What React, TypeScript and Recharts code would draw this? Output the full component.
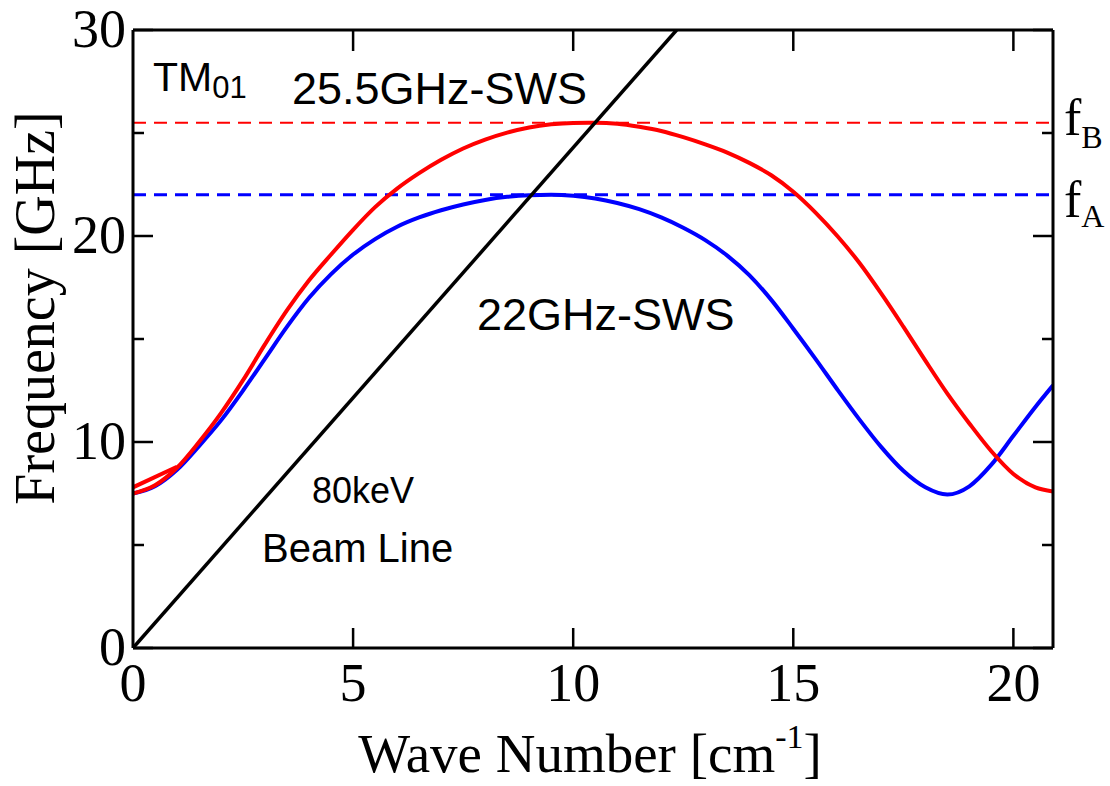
import { ComposedChart, Line, ReferenceLine, XAxis, YAxis } from 'recharts';

const waveNumbers = [
  0, 0.5, 1, 1.5, 2, 2.5, 3, 3.5, 4, 4.5, 5, 5.5, 6, 6.5, 7, 7.5, 8, 8.5, 9, 9.5, 10, 10.5,
  11, 11.5, 12, 12.5, 13, 13.5, 14, 14.5, 15, 15.5, 16, 16.5, 17, 17.5, 18, 18.5, 19, 19.5,
  20, 20.5, 20.9,
];
const sws22Freq = [
  7.5, 7.85, 8.65, 9.8, 11.05, 12.5, 14.05, 15.6, 17.0, 18.15, 19.1, 19.85, 20.45, 20.9, 21.25,
  21.53, 21.75, 21.9, 21.98, 22.0, 21.95, 21.82, 21.6, 21.3, 20.9, 20.4, 19.8, 19.05, 18.1,
  16.9, 15.5, 14.05, 12.55, 11.1, 9.75, 8.6, 7.8, 7.45, 7.85, 8.9, 10.3, 11.7, 12.75,
];
const sws255Freq = [
  7.5, 7.9, 8.75, 10.0, 11.4, 13.0, 14.75, 16.4, 17.85, 19.1, 20.3, 21.4, 22.3, 23.05, 23.7,
  24.25, 24.68, 25.02, 25.27, 25.42, 25.49, 25.5, 25.45, 25.3, 25.1, 24.8, 24.45, 24.05, 23.55,
  22.95, 22.15, 21.15, 20.0, 18.7, 17.2, 15.6, 13.95, 12.35, 10.9, 9.55, 8.45, 7.8, 7.6,
];
// short straight piece of the red curve near k = 0..1
const sws255KinkK = [0, 1];
const sws255KinkFreq = [7.8, 8.8];
// 80 keV beam line
const beamK = [0, 12.35];
const beamFreq = [0, 30];

const fA = 22;
const fB = 25.5;

const xTicks = [0, 5, 10, 15, 20];
const yTicks = [0, 5, 10, 15, 20, 25, 30];

const blueData = waveNumbers.map((k, i) => ({ k, f: sws22Freq[i] }));
const redData = waveNumbers.map((k, i) => ({ k, f: sws255Freq[i] }));
const kinkData = sws255KinkK.map((k, i) => ({ k, f: sws255KinkFreq[i] }));
const beamData = beamK.map((k, i) => ({ k, f: beamFreq[i] }));

const SERIF = '"Liberation Serif", "Times New Roman", serif';
const SANS = '"Liberation Sans", Arial, sans-serif';

function LeftTick({ x, y, payload }: any) {
  const major = payload.value % 10 === 0;
  return (
    <g>
      <line x1={x} y1={y} x2={x + (major ? 20 : 11)} y2={y} stroke="#000" strokeWidth={2.5} />
      {major && (
        <text x={x - 7} y={y + 17} textAnchor="end" fontFamily={SERIF} fontSize={54} fill="#000">
          {payload.value}
        </text>
      )}
    </g>
  );
}

function RightTick({ x, y, payload }: any) {
  const major = payload.value % 10 === 0;
  return <line x1={x} y1={y} x2={x - (major ? 20 : 11)} y2={y} stroke="#000" strokeWidth={2.5} />;
}

function BottomTick({ x, y, payload }: any) {
  return (
    <g>
      {payload.value !== 0 && <line x1={x} y1={y} x2={x} y2={y - 20} stroke="#000" strokeWidth={2.5} />}
      <text x={x} y={y + 53} textAnchor="middle" fontFamily={SERIF} fontSize={54} fill="#000">
        {payload.value}
      </text>
    </g>
  );
}

function TopTick({ x, y, payload }: any) {
  if (payload.value === 0) return <g />;
  return <line x1={x} y1={y} x2={x} y2={y + 21} stroke="#000" strokeWidth={2.5} />;
}

const axisLine = { stroke: '#000', strokeWidth: 3 };

export default function App() {
  return (
    <div style={{ position: 'absolute', left: 0, top: 0, width: 1110, height: 786, background: '#fff' }}>
      <ComposedChart
        width={1110}
        height={786}
        margin={{ top: 29, right: 56, bottom: 137, left: 132 }}
      >
        <XAxis
          xAxisId="b"
          dataKey="k"
          type="number"
          domain={[0, 20.9]}
          ticks={xTicks}
          interval={0}
          allowDataOverflow
          height={1}
          tickSize={0}
          tickMargin={0}
          tick={<BottomTick />}
          axisLine={axisLine}
        />
        <XAxis
          xAxisId="t"
          orientation="top"
          dataKey="k"
          type="number"
          domain={[0, 20.9]}
          ticks={xTicks}
          interval={0}
          allowDataOverflow
          height={1}
          tickSize={0}
          tickMargin={0}
          tick={<TopTick />}
          axisLine={axisLine}
        />
        <YAxis
          yAxisId="l"
          type="number"
          domain={[0, 30]}
          ticks={yTicks}
          interval={0}
          allowDataOverflow
          width={1}
          tickSize={0}
          tickMargin={0}
          tick={<LeftTick />}
          axisLine={axisLine}
        />
        <YAxis
          yAxisId="r"
          orientation="right"
          type="number"
          domain={[0, 30]}
          ticks={yTicks}
          interval={0}
          allowDataOverflow
          width={1}
          tickSize={0}
          tickMargin={0}
          tick={<RightTick />}
          axisLine={axisLine}
        />
        <ReferenceLine xAxisId="b" yAxisId="l" y={fB} stroke="#ff0000" strokeWidth={2} strokeDasharray="13 8" />
        <ReferenceLine xAxisId="b" yAxisId="l" y={fA} stroke="#0000ff" strokeWidth={3} strokeDasharray="13 8" />
        <Line
          xAxisId="b"
          yAxisId="l"
          data={blueData}
          dataKey="f"
          type="monotone"
          stroke="#0000ff"
          strokeWidth={4}
          dot={false}
          isAnimationActive={false}
        />
        <Line
          xAxisId="b"
          yAxisId="l"
          data={redData}
          dataKey="f"
          type="monotone"
          stroke="#ff0000"
          strokeWidth={4}
          dot={false}
          isAnimationActive={false}
        />
        <Line
          xAxisId="b"
          yAxisId="l"
          data={kinkData}
          dataKey="f"
          type="linear"
          stroke="#ff0000"
          strokeWidth={4}
          dot={false}
          isAnimationActive={false}
        />
        <Line
          xAxisId="b"
          yAxisId="l"
          data={beamData}
          dataKey="f"
          type="linear"
          stroke="#000"
          strokeWidth={3.5}
          dot={false}
          isAnimationActive={false}
        />
      </ComposedChart>
      <svg
        width={1110}
        height={786}
        style={{ position: 'absolute', left: 0, top: 0, pointerEvents: 'none' }}
      >
        <text
          x={54}
          y={308}
          transform="rotate(-90 54 308)"
          textAnchor="middle"
          fontFamily={SERIF}
          fontSize={56}
          fill="#000"
        >
          Frequency [GHz]
        </text>
        <text x={590} y={772} textAnchor="middle" fontFamily={SERIF} fontSize={55} fill="#000">
          Wave Number [cm
          <tspan fontSize={34} dy={-24}>-1</tspan>
          <tspan dy={24}>]</tspan>
        </text>
        <text x={153} y={91} fontFamily={SANS} fontSize={41} fill="#000">
          TM
          <tspan fontSize={31} dy={7}>01</tspan>
        </text>
        <text x={292} y={104} fontFamily={SANS} fontSize={45} fill="#000">25.5GHz-SWS</text>
        <text x={477} y={330} fontFamily={SANS} fontSize={45} fill="#000">22GHz-SWS</text>
        <text x={312} y={503} fontFamily={SANS} fontSize={36} fill="#000">80keV</text>
        <text x={262} y={562} fontFamily={SANS} fontSize={40} fill="#000">Beam Line</text>
        <text x={1064} y={135} fontFamily={SERIF} fontSize={52} fill="#000">
          f<tspan fontSize={32} dy={13}>B</tspan>
        </text>
        <text x={1064} y={217} fontFamily={SERIF} fontSize={52} fill="#000">
          f<tspan fontSize={32} dy={10}>A</tspan>
        </text>
      </svg>
    </div>
  );
}
